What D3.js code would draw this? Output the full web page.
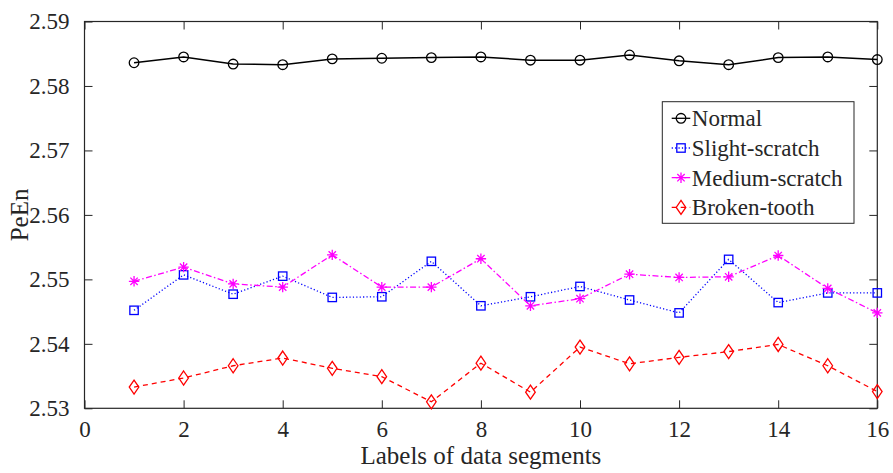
<!DOCTYPE html>
<html>
<head>
<meta charset="utf-8">
<script src="https://cdn.jsdelivr.net/npm/d3@7"></script>
<style>
  body { margin: 0; background: #fff; }
  svg text { font-family: "Times New Roman", "Liberation Serif", "DejaVu Serif", serif !important; fill: #262626; }
</style>
</head>
<body>
<script>
var w = 893,
    h = 473,
    margin = {top: 21.5, right: 15.7, bottom: 64.7, left: 84.5};

var segments = d3.range(1, 17);
var xTicks = [0, 2, 4, 6, 8, 10, 12, 14, 16];
var yTicks = [2.53, 2.54, 2.55, 2.56, 2.57, 2.58, 2.59];

var normal = [2.5836, 2.5845, 2.5834, 2.5833, 2.5842, 2.5843, 2.5844, 2.5845,
              2.5840, 2.5840, 2.5848, 2.5839, 2.5833, 2.5844, 2.5845, 2.5841];
var slight = [2.5452, 2.5507, 2.5477, 2.5505, 2.5472, 2.5473, 2.5528, 2.5459,
              2.5473, 2.5489, 2.5468, 2.5448, 2.5531, 2.5464, 2.5479, 2.5479];
var medium = [2.5497, 2.5519, 2.5493, 2.5488, 2.5538, 2.5488, 2.5488, 2.5532,
              2.5459, 2.5470, 2.5508, 2.5503, 2.5504, 2.5537, 2.5486, 2.5448];
var broken = [2.5333, 2.5347, 2.5366, 2.5378, 2.5362, 2.5349, 2.5310, 2.5370,
              2.5325, 2.5395, 2.5369, 2.5379, 2.5388, 2.5399, 2.5366, 2.5326];

var series = [
  {name: "Normal", values: normal, color: "#000000", dash: null, marker: "circle"},
  {name: "Slight-scratch", values: slight, color: "#0000ff", dash: "1.2,2.2", marker: "square"},
  {name: "Medium-scratch", values: medium, color: "#ff00ff", dash: "6,2.5,1.5,2.5", marker: "star"},
  {name: "Broken-tooth", values: broken, color: "#ff0000", dash: "5,4", marker: "diamond"}
];

var iw = w - margin.left - margin.right,
    ih = h - margin.top - margin.bottom;

var svg = d3.select("body").append("svg")
    .attr("width", w)
    .attr("height", h);

var g = svg.append("g")
    .attr("transform", "translate(" + margin.left + "," + margin.top + ")");

var x = d3.scaleLinear().domain([0, 16]).range([0, iw]);
var y = d3.scaleLinear().domain([2.53, 2.59]).range([ih, 0]);

// axes with inward ticks
function styleAxis(sel) {
  sel.attr("font-family", null);
  sel.select(".domain").remove();
  sel.selectAll("line").attr("stroke", "#262626").attr("stroke-width", 1);
}

g.append("g")
    .attr("transform", "translate(0," + ih + ")")
    .call(d3.axisBottom(x).tickValues(xTicks).tickSizeInner(-8).tickSizeOuter(0).tickPadding(12))
    .call(styleAxis)
    .selectAll("text").attr("font-size", 23).attr("dy", "0.71em");

g.append("g")
    .call(d3.axisTop(x).tickValues(xTicks).tickSizeInner(-8).tickSizeOuter(0).tickFormat(""))
    .call(styleAxis);

g.append("g")
    .call(d3.axisLeft(y).tickValues(yTicks).tickSizeInner(-8).tickSizeOuter(0).tickPadding(15).tickFormat(d3.format(".2f")))
    .call(styleAxis)
    .selectAll("text").attr("font-size", 23);

g.append("g")
    .attr("transform", "translate(" + iw + ",0)")
    .call(d3.axisRight(y).tickValues(yTicks).tickSizeInner(-8).tickSizeOuter(0).tickFormat(""))
    .call(styleAxis);

g.append("rect")
    .attr("width", iw)
    .attr("height", ih)
    .attr("fill", "none")
    .attr("stroke", "#262626")
    .attr("stroke-width", 1.2);

// markers
function drawMarker(sel, type, color) {
  if (type === "circle") {
    sel.append("circle").attr("r", 4.8)
        .attr("fill", "none").attr("stroke", color).attr("stroke-width", 1.3);
  } else if (type === "square") {
    sel.append("rect").attr("x", -4.2).attr("y", -4.2).attr("width", 8.4).attr("height", 8.4)
        .attr("fill", "none").attr("stroke", color).attr("stroke-width", 1.3);
  } else if (type === "diamond") {
    sel.append("path").attr("d", "M0,-7L4.8,0L0,7L-4.8,0Z")
        .attr("fill", "none").attr("stroke", color).attr("stroke-width", 1.3);
  } else if (type === "star") {
    var r = 5.2, d = "";
    for (var i = 0; i < 4; i++) {
      var a = i * Math.PI / 4;
      d += "M" + (-r * Math.cos(a)) + "," + (-r * Math.sin(a)) + "L" + (r * Math.cos(a)) + "," + (r * Math.sin(a));
    }
    sel.append("path").attr("d", d)
        .attr("fill", "none").attr("stroke", color).attr("stroke-width", 1.3);
  }
}

var line = d3.line()
    .x(function(d, i) { return x(segments[i]); })
    .y(function(d) { return y(d); });

series.forEach(function(s) {
  g.append("path")
      .datum(s.values)
      .attr("d", line)
      .attr("fill", "none")
      .attr("stroke", s.color)
      .attr("stroke-width", s.marker === "circle" ? 1.5 : 1.3)
      .attr("stroke-dasharray", s.dash);

  g.selectAll(null)
      .data(s.values)
      .enter().append("g")
      .attr("transform", function(d, i) { return "translate(" + x(segments[i]) + "," + y(d) + ")"; })
      .each(function() { drawMarker(d3.select(this), s.marker, s.color); });
});

// legend
var legend = svg.append("g").attr("transform", "translate(662.3,101.7)");

legend.append("rect")
    .attr("width", 191.7)
    .attr("height", 121.6)
    .attr("fill", "#fff")
    .attr("stroke", "#262626")
    .attr("stroke-width", 1);

series.forEach(function(s, i) {
  var row = legend.append("g").attr("transform", "translate(0," + (16.6 + i * 29.7) + ")");
  row.append("line")
      .attr("x1", 9.4).attr("x2", 28)
      .attr("stroke", s.color)
      .attr("stroke-width", 1.3)
      .attr("stroke-dasharray", s.dash);
  var m = row.append("g").attr("transform", "translate(18.7,0)");
  drawMarker(m, s.marker, s.color);
  row.append("text")
      .attr("x", 29.5)
      .attr("dy", "0.35em")
      .attr("font-size", 23)
      .text(s.name);
});

// axis titles
svg.append("text")
    .attr("x", margin.left + iw / 2)
    .attr("y", 464)
    .attr("text-anchor", "middle")
    .attr("font-size", 25)
    .text("Labels of data segments");

svg.append("text")
    .attr("transform", "translate(28," + (margin.top + ih / 2) + ")rotate(-90)")
    .attr("text-anchor", "middle")
    .attr("font-size", 25)
    .text("PeEn");
</script>
</body>
</html>
